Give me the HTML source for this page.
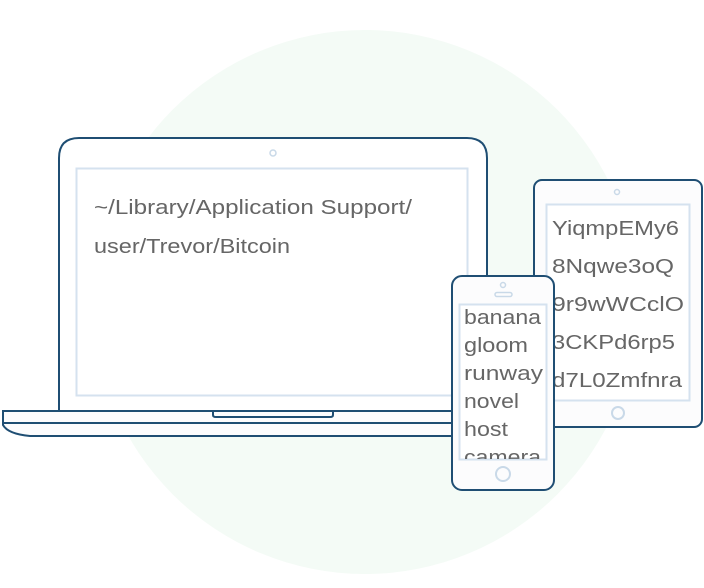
<!DOCTYPE html>
<html><head><style>
html,body{margin:0;padding:0;background:#fff;}
svg{display:block;}
text{font-family:"Liberation Sans",sans-serif;fill:#666;}
</style></head><body>
<svg width="704" height="588" viewBox="0 0 704 588" xmlns="http://www.w3.org/2000/svg">
<circle cx="365" cy="302" r="272" fill="#f4fbf6"/>
<!-- laptop -->
<path d="M59,411 V158 Q59,138 79,138 H467 Q487,138 487,158 V411 Z" fill="#fff" stroke="#1f4e73" stroke-width="2"/>
<rect x="76.5" y="168.5" width="391" height="227" fill="#fff" stroke="#d5e2ef" stroke-width="2"/>
<circle cx="273" cy="153" r="3" fill="none" stroke="#c9d9e8" stroke-width="1.5"/>
<path d="M3,411 H470 V436 H30 Q8,434 3,425 Z" fill="#fcfcfd" stroke="#1f4e73" stroke-width="2"/>
<line x1="3" y1="423" x2="470" y2="423" stroke="#1f4e73" stroke-width="2"/>
<path d="M213,411 V415 Q213,417 216,417 H330 Q333,417 333,415 V411" fill="none" stroke="#1f4e73" stroke-width="2"/>
<text x="94" y="214" font-size="20" textLength="318" lengthAdjust="spacingAndGlyphs">~/Library/Application Support/</text>
<text x="94" y="253" font-size="20" textLength="196" lengthAdjust="spacingAndGlyphs">user/Trevor/Bitcoin</text>
<!-- tablet -->
<rect x="534" y="180" width="168" height="247" rx="8" fill="#fcfcfd" stroke="#1f4e73" stroke-width="2"/>
<rect x="546.5" y="204.5" width="143" height="196" fill="#fff" stroke="#d5e2ef" stroke-width="2"/>
<circle cx="617" cy="192" r="2.5" fill="none" stroke="#c9d9e8" stroke-width="1.5"/>
<circle cx="618" cy="413" r="6" fill="none" stroke="#c9d9e8" stroke-width="2"/>
<g font-size="20" lengthAdjust="spacingAndGlyphs">
<text x="552" y="235" textLength="127" lengthAdjust="spacingAndGlyphs">YiqmpEMy6</text>
<text x="552" y="273" textLength="122" lengthAdjust="spacingAndGlyphs">8Nqwe3oQ</text>
<text x="552" y="311" textLength="132" lengthAdjust="spacingAndGlyphs">9r9wWCclO</text>
<text x="552" y="349" textLength="123" lengthAdjust="spacingAndGlyphs">3CKPd6rp5</text>
<text x="552" y="387" textLength="130" lengthAdjust="spacingAndGlyphs">d7L0Zmfnra</text>
</g>
<!-- phone -->
<rect x="452" y="276" width="102" height="214" rx="10" fill="#fcfcfd" stroke="#1f4e73" stroke-width="2"/>
<rect x="459.5" y="304.5" width="87" height="155" fill="#fff" stroke="#d5e2ef" stroke-width="2"/>
<circle cx="503" cy="285" r="2.5" fill="none" stroke="#c9d9e8" stroke-width="1.5"/>
<rect x="495" y="292.5" width="17" height="4" rx="2" fill="none" stroke="#c9d9e8" stroke-width="1.5"/>
<circle cx="503" cy="474" r="7" fill="none" stroke="#c9d9e8" stroke-width="2"/>
<clipPath id="pc"><rect x="460" y="305" width="86" height="154"/></clipPath>
<g font-size="20" clip-path="url(#pc)">
<text x="464" y="324" textLength="77" lengthAdjust="spacingAndGlyphs">banana</text>
<text x="464" y="352" textLength="64" lengthAdjust="spacingAndGlyphs">gloom</text>
<text x="464" y="380" textLength="79" lengthAdjust="spacingAndGlyphs">runway</text>
<text x="464" y="408" textLength="55" lengthAdjust="spacingAndGlyphs">novel</text>
<text x="464" y="436" textLength="44" lengthAdjust="spacingAndGlyphs">host</text>
<text x="464" y="464" textLength="77" lengthAdjust="spacingAndGlyphs">camera</text>
</g>
</svg>
</body></html>
